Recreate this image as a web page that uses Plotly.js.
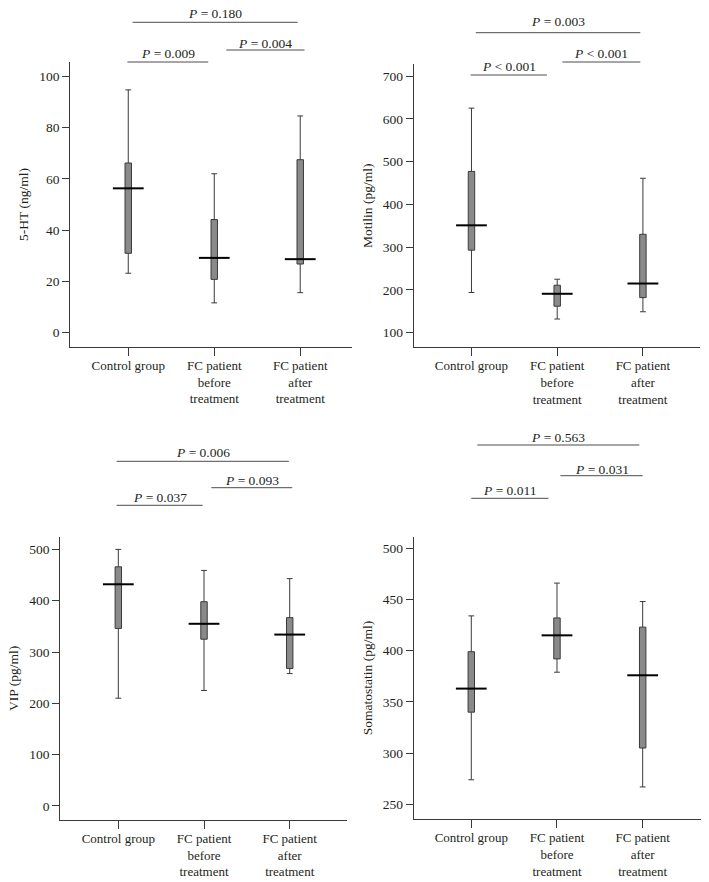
<!DOCTYPE html>
<html>
<head>
<meta charset="utf-8">
<script src="https://cdn.plot.ly/plotly-3.0.1.min.js"></script>
<style>html,body{margin:0;padding:0;background:#fff;}#chart{width:709px;height:882px;}</style>
</head>
<body>
<div id="chart"></div>
<script>
// Categories
const categories = ["Control group", "FC patient<br>before<br>treatment", "FC patient<br>after<br>treatment"];

// 5-HT (ng/ml)
const htLow    = [23.1, 11.5, 15.5];
const htQ1     = [30.9, 20.7, 26.7];
const htMedian = [56.3, 29.1, 28.6];
const htQ3     = [66.2, 44.1, 67.5];
const htHigh   = [94.8, 62.0, 84.6];

// Motilin (pg/ml)
const moLow    = [194, 132, 149];
const moQ1     = [293, 162, 182];
const moMedian = [351, 191, 215];
const moQ3     = [477, 211, 330];
const moHigh   = [625, 225, 461];

// VIP (pg/ml)
const vipLow    = [210, 225, 258];
const vipQ1     = [346, 325, 268];
const vipMedian = [432, 355, 334];
const vipQ3     = [466, 398, 367];
const vipHigh   = [500, 459, 443];

// Somatostatin (pg/ml)
const ssLow    = [274, 379, 267];
const ssQ1     = [340, 392, 305];
const ssMedian = [363, 415, 376];
const ssQ3     = [399, 432, 423];
const ssHigh   = [434, 466, 448];

// P values: [control vs before, before vs after, control vs after]
const pHT  = ["P = 0.009", "P = 0.004", "P = 0.180"];
const pMo  = ["P < 0.001", "P < 0.001", "P = 0.003"];
const pVIP = ["P = 0.037", "P = 0.093", "P = 0.006"];
const pSS  = ["P = 0.011", "P = 0.031", "P = 0.563"];

const yTitles = ["5-HT (ng/ml)", "Motilin (pg/ml)", "VIP (pg/ml)", "Somatostatin (pg/ml)"];

const FONT = "Liberation Serif, Times New Roman, serif";
const TXT = "#231f20";
const FS = 13.5;

function boxTrace(ax, lo, q1, med, q3, hi) {
  return {
    type: "box", xaxis: "x" + ax, yaxis: "y" + ax,
    x: [0, 1, 2],
    lowerfence: lo, q1: q1, median: med, q3: q3, upperfence: hi,
    width: 0.075, whiskerwidth: 0.9,
    fillcolor: "#8a8a8a",
    line: {color: "#3a3a3a", width: 1},
    showlegend: false, hoverinfo: "skip"
  };
}
function medTrace(ax, med) {
  return {
    type: "scatter", mode: "markers", xaxis: "x" + ax, yaxis: "y" + ax,
    x: [0, 1, 2], y: med,
    marker: {symbol: "line-ew", size: 22, color: "#000", line: {color: "#000", width: 2}},
    showlegend: false, hoverinfo: "skip", cliponaxis: false
  };
}

const data = [
  boxTrace("", htLow, htQ1, htMedian, htQ3, htHigh), medTrace("", htMedian),
  boxTrace("2", moLow, moQ1, moMedian, moQ3, moHigh), medTrace("2", moMedian),
  boxTrace("3", vipLow, vipQ1, vipMedian, vipQ3, vipHigh), medTrace("3", vipMedian),
  boxTrace("4", ssLow, ssQ1, ssMedian, ssQ3, ssHigh), medTrace("4", ssMedian)
];

function xax(domain, range, anchor) {
  return {
    domain: domain, range: range, anchor: anchor,
    type: "linear",
    tickmode: "array", tickvals: [0, 1, 2], ticktext: categories,
    showline: true, linecolor: "#3a3a3a", linewidth: 1,
    ticks: "outside", ticklen: 8, tickcolor: "#3a3a3a", tickwidth: 1,
    ticklabelstandoff: -2,
    showgrid: false, zeroline: false,
    tickfont: {family: FONT, size: 13, color: TXT}
  };
}
function yax(domain, range, anchor, dtick, title) {
  return {
    domain: domain, range: range, anchor: anchor,
    dtick: dtick, tick0: 0,
    showline: true, linecolor: "#3a3a3a", linewidth: 1,
    ticks: "outside", ticklen: 7, tickcolor: "#3a3a3a", tickwidth: 1,
    showgrid: false, zeroline: false,
    tickfont: {family: FONT, size: FS, color: TXT},
    title: {text: title, font: {family: FONT, size: FS, color: TXT}, standoff: 7}
  };
}

const W = 709, H = 882;
function py(v) { return 1 - v / H; }

const shapes = [];
const annotations = [];
function sig(ax, x0, x1, yLine, yText, label) {
  shapes.push({type: "line", xref: "x" + ax, yref: "paper", x0: x0, x1: x1, y0: py(yLine), y1: py(yLine),
               line: {color: "#4d4d4d", width: 1}});
  const t = label.replace(/^P/, "<i>P</i>");
  annotations.push({xref: "x" + ax, yref: "paper", x: (x0 + x1) / 2, y: py(yText), text: t,
                    showarrow: false, xanchor: "center", yanchor: "middle",
                    font: {family: FONT, size: FS, color: TXT}});
}
// panel 1
sig("", -0.01, 0.93, 62, 53.5, pHT[0]);
sig("", 1.14, 2.05, 50, 43, pHT[1]);
sig("", 0.05, 1.97, 22.3, 14, pHT[2]);
// panel 2
sig("2", -0.01, 0.88, 75, 66.5, pMo[0]);
sig("2", 1.06, 1.97, 62, 54, pMo[1]);
sig("2", 0.05, 1.97, 32.7, 21.7, pMo[2]);
// panel 3
sig("3", -0.02, 0.985, 505.3, 497.3, pVIP[0]);
sig("3", 1.085, 2.03, 487.7, 480, pVIP[1]);
sig("3", -0.02, 1.99, 461.3, 452, pVIP[2]);
// panel 4
sig("4", 0.0, 0.9, 498.3, 490.3, pSS[0]);
sig("4", 1.04, 2.0, 475.7, 469.3, pSS[1]);
sig("4", 0.07, 1.96, 445, 437.3, pSS[2]);

const layout = {
  width: W, height: H,
  margin: {l: 0, r: 0, t: 0, b: 0, pad: 0},
  paper_bgcolor: "#fff", plot_bgcolor: "#fff",
  showlegend: false,
  font: {family: FONT, color: TXT},
  xaxis:  xax([70.3 / W, 352 / W], [-0.674, 2.602], "y"),
  yaxis:  yax([py(347), py(62)], [-5.75, 105.7], "x", 20, yTitles[0]),
  xaxis2: xax([413.7 / W, 700 / W], [-0.674, 2.666], "y2"),
  yaxis2: yax([py(347.3), py(64.3)], [65.9, 727.4], "x2", 100, yTitles[1]),
  xaxis3: xax([60.3 / W, 347.3 / W], [-0.677, 2.672], "y3"),
  yaxis3: yax([py(820), py(536.7)], [-27.3, 524.7], "x3", 100, yTitles[2]),
  xaxis4: xax([413.7 / W, 700.7 / W], [-0.672, 2.677], "y4"),
  yaxis4: yax([py(819.3), py(536.7)], [235.4, 511.3], "x4", 50, yTitles[3]),
  shapes: shapes,
  annotations: annotations
};

Plotly.newPlot("chart", data, layout, {staticPlot: true, displayModeBar: false});
</script>
</body>
</html>
